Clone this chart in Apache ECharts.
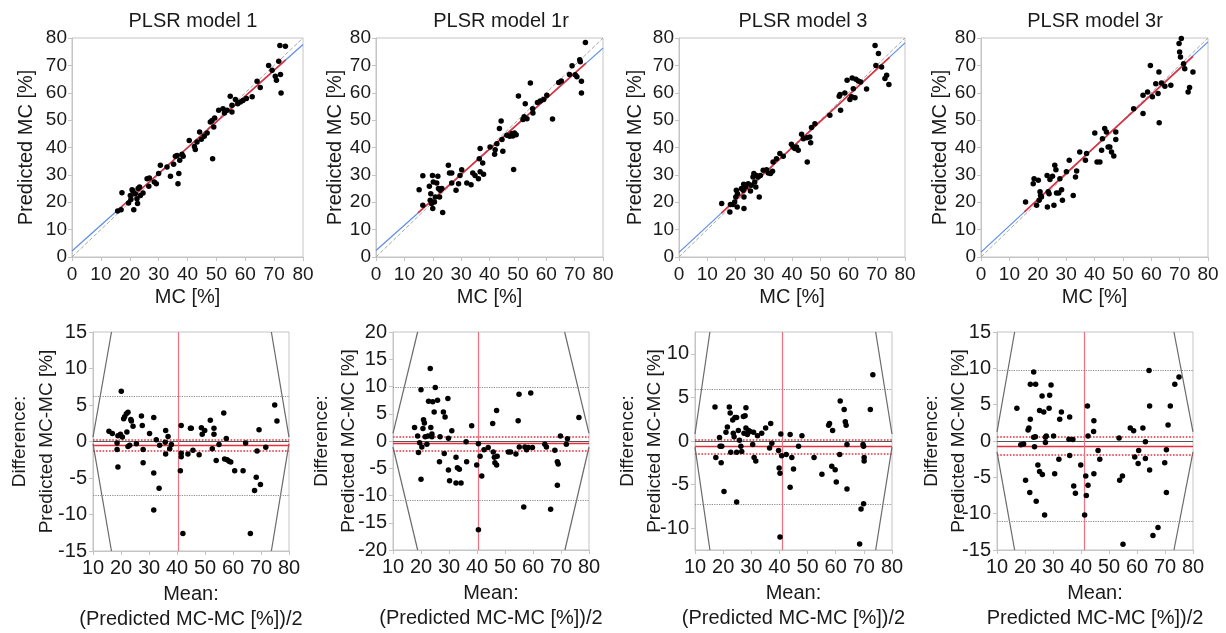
<!DOCTYPE html>
<html>
<head>
<meta charset="utf-8">
<script src="https://cdn.jsdelivr.net/npm/echarts@6/dist/echarts.min.js"></script>
<style>
  html, body { margin: 0; padding: 0; background: #fff; }
  #main { width: 1226px; height: 633px; }
</style>
</head>
<body>
<div id="main"></div>
<script>
// ---- data ----
const modelNames = ['PLSR model 1', 'PLSR model 1r', 'PLSR model 3', 'PLSR model 3r'];

// measured MC vs predicted MC  [mc, predicted]
const m1Top = [[15.8,16.8],[17.0,17.3],[17.3,23.5],[19.6,19.7],[20.2,22.5],[20.4,21.0],[20.8,24.6],[21.4,17.3],[21.1,24.1],[21.9,23.1],[22.5,21.3],[22.9,25.0],[23.4,25.6],[23.7,22.5],[22.7,19.5],[24.6,23.4],[26.0,28.6],[26.8,28.9],[26.6,25.8],[28.5,27.4],[29.2,26.8],[30.0,30.5],[30.6,33.5],[32.9,32.9],[34.1,29.5],[35.2,33.9],[35.8,36.8],[36.4,37.1],[36.7,26.8],[37.0,30.5],[37.3,35.3],[38.1,37.5],[38.5,36.8],[40.6,42.6],[42.4,40.4],[42.7,39.3],[43.3,42.0],[44.2,45.7],[44.8,43.0],[45.8,44.1],[46.8,45.3],[47.9,49.3],[48.5,49.9],[48.7,35.9],[49.1,47.5],[49.4,50.8],[50.8,53.6],[52.3,54.2],[52.8,52.6],[53.7,53.6],[54.8,58.7],[55.4,55.4],[55.4,53.0],[56.6,57.5],[57.4,56.0],[58.3,56.6],[59.2,57.2],[60.4,57.9],[62.4,58.5],[64.1,64.2],[65.2,61.9],[68.1,70.0],[69.3,68.2],[70.4,66.0],[70.8,64.6],[71.6,71.5],[72.0,77.3],[72.2,66.7],[72.4,59.9],[73.9,77.0]];
const m1rTop = [[15.2,24.6],[16.5,29.7],[16.5,18.9],[18.8,25.8],[19.1,20.7],[19.3,23.1],[19.6,19.5],[19.9,29.8],[20.2,27.4],[20.0,17.7],[20.6,20.1],[20.9,21.9],[21.4,27.0],[21.8,29.5],[22.0,25.0],[22.4,21.9],[22.6,24.4],[23.2,25.0],[23.5,16.3],[25.5,33.5],[25.9,30.7],[26.7,30.7],[26.7,27.0],[28.2,24.4],[29.1,26.8],[29.6,29.8],[30.2,31.9],[32.0,27.0],[33.5,26.4],[34.1,30.7],[34.9,29.8],[36.1,28.6],[36.4,35.9],[36.7,39.6],[36.7,31.1],[37.6,34.3],[37.9,30.2],[40.2,40.2],[41.8,37.5],[42.0,39.2],[42.6,41.4],[43.5,46.9],[44.1,49.7],[44.4,42.9],[44.7,38.6],[46.1,44.5],[47.1,44.1],[47.9,45.1],[48.2,44.2],[48.5,32.0],[48.8,45.3],[49.4,44.7],[50.2,58.8],[51.8,50.2],[52.2,51.2],[52.6,56.0],[53.2,50.5],[54.4,63.6],[55.2,54.2],[55.3,52.6],[56.9,56.4],[57.9,57.0],[59.1,57.5],[60.2,59.1],[62.2,50.4],[64.4,63.7],[65.3,64.3],[68.2,66.7],[69.1,69.9],[70.2,66.6],[70.8,65.8],[71.8,72.1],[72.0,71.3],[72.4,64.2],[72.4,59.9],[73.8,78.4]];
const m3Top = [[15.1,19.5],[18.0,16.4],[18.2,19.2],[19.1,19.2],[19.7,20.1],[20.1,21.9],[20.3,24.4],[20.6,18.3],[20.7,23.1],[22.1,25.0],[22.7,24.4],[22.9,26.6],[23.0,21.9],[23.0,17.7],[23.6,25.6],[24.5,26.8],[25.3,24.1],[25.6,26.2],[26.2,29.2],[26.5,30.5],[26.8,27.4],[27.2,25.6],[27.4,29.8],[28.0,29.2],[28.4,21.9],[28.8,29.8],[29.8,31.7],[31.0,31.9],[31.6,30.7],[32.4,30.5],[33.1,31.3],[33.3,34.7],[34.5,35.9],[35.7,37.8],[36.9,36.8],[39.8,41.2],[40.4,40.2],[41.0,39.6],[41.6,40.2],[42.2,39.0],[43.4,44.8],[44.0,43.2],[45.2,43.6],[45.4,34.7],[46.3,43.8],[46.6,41.7],[46.9,47.3],[48.1,48.7],[53.4,51.8],[56.7,58.7],[57.0,59.4],[57.2,53.6],[58.7,59.9],[59.5,64.6],[60.5,57.5],[61.1,58.5],[61.3,65.4],[61.7,61.5],[62.3,58.2],[62.6,64.9],[63.5,64.3],[64.3,63.9],[66.4,61.4],[69.4,77.3],[69.7,70.0],[70.6,74.3],[71.7,69.4],[72.9,65.2],[73.5,66.4],[74.3,63.0]];
const m3rTop = [[15.7,20.1],[18.4,26.8],[18.7,28.6],[19.6,18.9],[20.2,28.0],[20.5,20.7],[20.8,23.8],[21.0,22.5],[21.3,21.9],[23.3,29.8],[23.4,18.3],[23.7,23.8],[24.0,23.1],[24.3,28.3],[25.2,29.5],[25.7,18.9],[26.0,33.5],[26.4,31.9],[26.6,23.4],[27.4,23.4],[27.8,28.6],[28.4,24.6],[28.7,20.7],[30.1,31.1],[31.1,35.3],[32.5,22.5],[33.3,29.2],[33.7,31.4],[34.8,38.4],[36.8,35.3],[37.2,37.8],[40.1,45.3],[40.9,34.7],[41.9,34.7],[42.5,39.0],[42.8,43.2],[43.6,46.9],[44.2,45.7],[44.8,40.2],[45.4,40.2],[46.0,38.4],[46.8,36.9],[47.5,45.7],[47.5,42.9],[53.8,54.2],[57.1,59.1],[57.1,52.4],[58.7,60.3],[59.7,70.0],[60.4,58.5],[61.6,63.3],[62.4,59.7],[62.7,67.6],[62.8,49.0],[63.6,63.6],[64.8,62.4],[66.9,62.7],[69.8,78.0],[70.0,74.9],[70.3,73.1],[70.6,79.8],[71.4,70.6],[71.8,68.8],[73.0,60.3],[73.5,61.9],[74.7,67.6]];

// Bland-Altman points  [mean, difference]
const m1Ba = [[15.7,1.4],[16.9,1.1],[18.9,0.8],[18.6,-0.2],[18.6,-1.1],[18.9,-3.5],[19.8,1.0],[20.1,6.9],[20.5,0.6],[20.95,3.1],[21.3,3.4],[21.9,3.8],[22.5,4.0],[22.1,1.3],[22.5,-0.7],[23.1,-0.5],[23.5,3.0],[23.7,2.8],[24.3,2.1],[25.5,-0.3],[27.3,3.5],[27.6,2.2],[27.9,-2.9],[27.9,-1.1],[30.2,1.1],[31.7,3.3],[31.7,-4.3],[31.7,-9.4],[32.6,0.25],[33.6,-6.4],[33.8,-0.5],[35.8,-0.1],[35.95,1.5],[35.95,-1.7],[36.8,0.7],[37.4,-1.0],[38.0,-0.4],[41.5,2.2],[41.5,-2.1],[41.5,-1.6],[41.2,-4.0],[42.1,-12.6],[43.9,-1.7],[44.8,1.8],[45.1,1.8],[45.7,-1.2],[47.9,-1.8],[48.7,1.9],[49.0,1.0],[49.9,1.5],[51.9,2.9],[52.6,-1.0],[53.2,1.8],[53.2,1.0],[54.0,-2.6],[55.0,-0.4],[56.7,3.9],[57.0,-2.4],[57.9,-2.5],[57.6,0.4],[58.6,-2.7],[59.2,-2.8],[60.6,-4.0],[63.6,-4.0],[64.5,-0.2],[66.2,-12.6],[67.7,-6.7],[68.3,-4.9],[68.6,-1.3],[69.3,1.6],[69.8,-5.9],[71.7,-0.8],[74.9,5.0],[75.7,2.8]];
const m1rBa = [[17.7,2.5],[18.8,0.9],[19.1,-2.1],[19.5,-0.3],[20.0,9.4],[20.3,-1.1],[20.0,-7.0],[20.7,2.3],[20.9,3.9],[21.2,3.3],[21.5,0.8],[22.1,-0.6],[22.5,0.9],[22.7,7.3],[23.3,13.3],[23.5,2.5],[23.9,1.3],[23.9,0.8],[24.2,7.2],[24.7,5.3],[25.1,9.8],[25.9,7.5],[26.6,-3.8],[26.8,0.8],[28.0,5.3],[28.3,-2.3],[28.6,4.4],[29.6,7.8],[29.8,-5.3],[29.8,0.5],[30.2,-7.3],[31.0,1.9],[32.5,-3.0],[32.5,-7.7],[33.0,-4.9],[33.7,-5.2],[34.3,-7.7],[36.1,-0.15],[36.3,-3.8],[38.1,2.8],[39.9,-4.4],[40.5,-0.5],[40.5,-16.3],[41.1,-2.8],[41.7,-6.4],[42.5,-1.6],[44.0,-1.2],[45.6,3.2],[45.8,-2.0],[46.2,-3.0],[46.4,-4.0],[47.0,5.6],[47.0,-4.4],[47.2,-2.8],[51.2,-2.0],[52.0,-2.0],[53.9,-2.4],[54.7,3.7],[55.0,8.6],[55.1,-1.1],[56.7,-12.1],[57.1,-1.1],[57.7,-1.6],[58.3,-1.2],[59.2,8.8],[59.8,-1.2],[64.2,-0.6],[64.8,-1.1],[66.3,-12.5],[67.8,-1.7],[68.7,-3.8],[69.0,-4.2],[68.7,-8.1],[69.8,0.9],[71.9,-0.6],[72.3,0.4],[76.4,4.3]];
const m3Ba = [[17.1,3.9],[17.4,-1.9],[18.7,0.4],[18.9,-0.6],[19.5,-0.6],[19.3,-2.5],[20.3,-5.8],[21.0,1.0],[21.5,1.6],[22.2,3.9],[22.5,3.2],[22.7,-1.3],[23.4,2.4],[23.6,0.9],[23.9,0.5],[24.2,2.7],[24.8,2.7],[24.8,-7.0],[24.8,-1.3],[25.4,1.2],[25.8,0.1],[26.3,-0.6],[26.6,-1.2],[27.2,2.8],[27.4,0.9],[27.8,2.9],[28.1,3.8],[28.1,1.5],[28.6,0.75],[29.0,1.2],[29.6,1.1],[30.5,-0.4],[30.8,1.0],[31.0,-1.9],[31.6,-2.3],[32.2,0.6],[33.7,0.9],[35.1,1.5],[36.5,-0.8],[36.9,2.0],[37.3,-0.25],[39.7,-1.1],[39.9,-3.1],[40.2,-3.7],[40.2,-11.0],[40.5,0.8],[40.8,-1.7],[42.4,-1.55],[43.8,0.75],[43.8,-5.3],[44.4,-1.9],[45.0,-3.2],[46.8,-0.6],[48.0,0.6],[52.3,-1.9],[55.1,-3.8],[57.5,1.8],[57.8,2.0],[58.6,-2.9],[58.9,1.2],[59.8,-3.3],[60.2,-4.7],[61.4,-1.55],[61.6,4.6],[63.0,3.6],[63.4,2.2],[63.7,1.8],[64.0,-5.5],[64.0,-0.4],[69.0,-7.8],[69.7,-0.4],[69.9,-0.6],[69.9,-7.2],[70.1,-1.9],[70.1,-2.3],[68.5,-11.8],[72.3,3.6],[73.2,7.6]];
const m3rBa = [[17.1,4.5],[18.5,-0.5],[19.5,-0.4],[20.2,-5.4],[21.1,1.5],[21.4,1.8],[21.7,-7.1],[21.9,3.0],[21.9,7.8],[23.1,9.5],[23.1,0.5],[23.4,-0.8],[23.7,0.6],[23.8,7.8],[24.6,-3.3],[24.0,-8.3],[25.2,4.2],[25.2,-4.2],[26.1,6.2],[26.2,-4.6],[26.7,4.0],[27.0,-10.2],[27.3,0.5],[27.3,-0.2],[27.6,0.7],[28.6,4.5],[28.8,6.3],[29.3,7.7],[30.2,0.7],[30.6,-4.5],[32.1,-2.5],[32.4,3.0],[33.0,4.0],[35.95,3.3],[35.95,-2.0],[35.7,0.25],[37.1,0.2],[37.4,-6.2],[38.0,-7.2],[39.9,-3.3],[41.3,-10.2],[41.7,-4.8],[41.9,-7.5],[42.3,4.8],[42.5,0.7],[42.5,-6.1],[44.5,1.3],[44.6,2.8],[44.6,-4.5],[46.1,-1.3],[46.7,-2.5],[53.6,0.4],[53.8,-5.4],[54.8,-4.8],[55.0,-14.2],[57.6,1.8],[58.8,1.4],[59.2,-2.2],[60.4,-3.1],[60.6,-1.3],[62.1,1.8],[63.0,-0.1],[63.0,-2.4],[64.3,9.7],[64.5,4.8],[64.5,-4.0],[65.7,-13.0],[67.5,-11.9],[69.9,-3.0],[70.5,-1.2],[70.5,-7.1],[71.1,2.2],[71.9,4.8],[73.5,7.8],[75.0,8.8]];

// fitted lines in the top row
const identityLine = [[0, 0], [80, 80]];
const blueFits = [[[0,2.2],[80,77.6]], [[0,2.4],[80,76.3]], [[0,1.7],[80,78.2]], [[0,1.8],[80,78.6]]];
const redFits  = [[[15.5,16.8],[74.0,72.0]], [[14.8,16.1],[74.0,70.8]], [[15.0,16.0],[74.5,72.9]], [[15.3,16.5],[74.7,73.3]]];

// Bland-Altman reference values
const baLoaUpper = [6.2, 9.8, 5.9, 9.7];
const baLoaLower = [-7.3, -10.8, -7.3, -11.1];
const baCiUpper  = [0.25, 0.75, 0.1, 0.55];
const baBias     = [-0.5, -0.5, -0.65, -0.7];
const baCiLower  = [-1.3, -1.7, -1.5, -1.85];
const baMeanX    = [40.4, 40.5, 41.1, 41.0];
const baBounds = [
  [[[16.6,15],[10,0.6]], [[10,-0.3],[16.6,-15]], [[73.7,15],[80,0.6]], [[80,-0.3],[73.7,-15]]],
  [[[18.8,20],[10,1.4]], [[10,-1.1],[18.8,-20]], [[71.3,20],[80,1.4]], [[80,-1.1],[71.4,-20]]],
  [[[15.3,12.5],[10,0.8]], [[10,-0.7],[15.3,-12.5]], [[74.2,12.5],[80,0.8]], [[80,-0.7],[74.2,-12.5]]],
  [[[16.3,15],[10,1.25]], [[10,-1.5],[16.3,-15]], [[73.2,15],[80,1.25]], [[80,-1.5],[73.2,-15]]]
];

// axes
const topTicks = [0, 10, 20, 30, 40, 50, 60, 70, 80];
const baXTicks = [10, 20, 30, 40, 50, 60, 70, 80];
const baYMin = [-15, -20, -12.5, -15];
const baYMax = [15, 20, 12.5, 15];
const baYTicks = [
  [-15, -10, -5, 0, 5, 10, 15],
  [-20, -15, -10, -5, 0, 5, 10, 15, 20],
  [-10, -5, 0, 5, 10],
  [-15, -10, -5, 0, 5, 10, 15]
];
const baXNames = ['Mean:\n(Predicted MC-MC [%])/2', 'Mean:\n(Predicted MC-MC [%])/2',
                  'Mean:\n(Predicted MC-MC [%])/2', 'Mean:\nPredicted MC-MC [%])/2'];

// ---- layout ----
const topData = [m1Top, m1rTop, m3Top, m3rTop];
const baData = [m1Ba, m1rBa, m3Ba, m3rBa];
const topBoxes = [[72,38,231,219], [376,38,227,219], [679,38,226,219], [981,38,227,219]];
const botBoxes = [[93,332,196,219], [393,332,196,218], [695,332,197,218], [997,332,196,218]];
const titleX = [188, 496, 798, 1090];
const topYGap = [36, 31, 34, 29];
const botYGap = [33, 31, 27, 25];

const FONT = 'Liberation Sans';
const TXT = '#1a1a1a';
const EDGE = '#c4c4c4';

const chart = echarts.init(document.getElementById('main'));

const grids = [], xAxes = [], yAxes = [], series = [], titles = [];

function addGrid(b) {
  grids.push({left: b[0], top: b[1], width: b[2], height: b[3], show: true,
    borderColor: EDGE, borderWidth: 1, containLabel: false, outerBoundsMode: 'none'});
  return grids.length - 1;
}

function valueAxis(gi, min, max, ticks, fs, margin) {
  return {
    type: 'value', gridIndex: gi, min: min, max: max,
    axisLine: {show: true, onZero: false, lineStyle: {color: EDGE}},
    axisTick: {show: true, length: 4, customValues: ticks, lineStyle: {color: EDGE}},
    axisLabel: {customValues: ticks, fontFamily: FONT, fontSize: fs, color: TXT, margin: margin},
    splitLine: {show: false},
    nameLocation: 'middle',
    nameTextStyle: {fontFamily: FONT, fontSize: 20, color: TXT}
  };
}

function seg(gi, pts, color, width, type, z) {
  series.push({type: 'line', xAxisIndex: gi, yAxisIndex: gi, data: pts, symbol: 'none',
    lineStyle: {color: color, width: width, type: type}, silent: true, z: z});
}

for (let i = 0; i < 4; i++) {
  // top row: predicted vs measured
  let gi = addGrid(topBoxes[i]);
  let xa = valueAxis(gi, 0, 80, topTicks, 19, 8);
  xa.name = 'MC [%]';
  xa.nameGap = 30;
  let ya = valueAxis(gi, 0, 80, topTicks, 19, 5);
  ya.name = 'Predicted MC [%]';
  ya.nameGap = topYGap[i];
  xAxes.push(xa); yAxes.push(ya);
  titles.push({text: modelNames[i], left: titleX[i], top: 6, textAlign: 'center',
    textStyle: {fontFamily: FONT, fontSize: 20, fontWeight: 'normal', color: TXT}});
  seg(gi, identityLine, '#a8a8a8', 1, 'dashed', 1);
  seg(gi, blueFits[i], '#5b8ee6', 1.2, 'solid', 2);
  seg(gi, redFits[i], '#e0303c', 1.6, 'solid', 3);
  series.push({type: 'scatter', xAxisIndex: gi, yAxisIndex: gi, data: topData[i],
    symbolSize: 5.5, itemStyle: {color: '#000', opacity: 1}, z: 5});

  // bottom row: Bland-Altman
  gi = addGrid(botBoxes[i]);
  xa = valueAxis(gi, 10, 80, baXTicks, 20, 7);
  xa.name = baXNames[i];
  xa.nameGap = 31;
  xa.nameTextStyle.lineHeight = 25;
  ya = valueAxis(gi, baYMin[i], baYMax[i], baYTicks[i], 20, 6);
  ya.name = 'Difference:\nPredicted MC-MC [%]';
  ya.nameGap = botYGap[i];
  ya.nameMoveOverlap = false;
  ya.nameTextStyle.fontSize = 19;
  ya.nameTextStyle.lineHeight = 27;
  xAxes.push(xa); yAxes.push(ya);
  baBounds[i].forEach(function (b) { seg(gi, b, '#6a6a6a', 1.2, 'solid', 2); });
  series.push({type: 'scatter', xAxisIndex: gi, yAxisIndex: gi, data: baData[i],
    symbolSize: 5.5, itemStyle: {color: '#000', opacity: 1}, z: 5,
    markLine: {
      silent: true, symbol: ['none', 'none'], label: {show: false}, animation: false,
      data: [
        {yAxis: 0, lineStyle: {color: '#555', width: 1, type: 'solid'}},
        {yAxis: baLoaUpper[i], lineStyle: {color: '#8a8a8a', width: 1.2, type: 'dotted'}},
        {yAxis: baLoaLower[i], lineStyle: {color: '#8a8a8a', width: 1.2, type: 'dotted'}},
        {yAxis: baCiUpper[i], lineStyle: {color: '#e8303c', width: 1.6, type: 'dotted'}},
        {yAxis: baCiLower[i], lineStyle: {color: '#e8303c', width: 1.6, type: 'dotted'}},
        {yAxis: baBias[i], lineStyle: {color: '#e8303c', width: 1.4, type: 'solid'}},
        {xAxis: baMeanX[i], lineStyle: {color: '#f07080', width: 1.2, type: 'solid'}}
      ]
    }});
}

chart.setOption({
  backgroundColor: '#fff',
  animation: false,
  title: titles,
  grid: grids,
  xAxis: xAxes,
  yAxis: yAxes,
  series: series
});
</script>
</body>
</html>
